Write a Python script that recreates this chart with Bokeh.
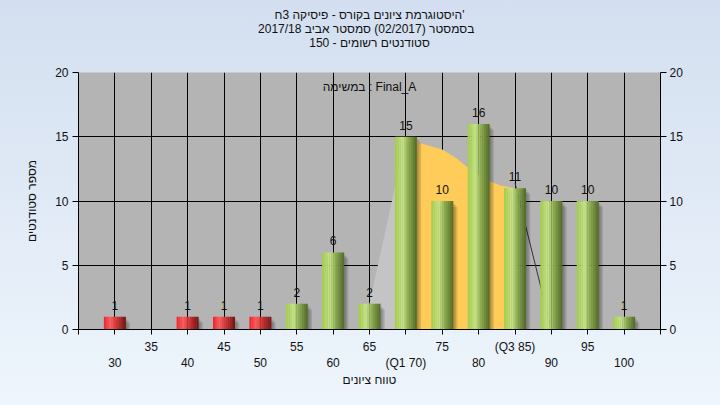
import math
from bokeh.plotting import figure
from bokeh.models import (Range1d, LinearAxis, FixedTicker, Title, Label, GlobalInlineStyleSheet)
from bokeh.core.properties import value
from bokeh.embed import file_html
from bokeh.resources import INLINE

# ---------------- data ----------------
categories = [30, 35, 40, 45, 50, 55, 60, 65, 70, 75, 80, 85, 90, 95, 100]
counts = [1, 0, 1, 1, 1, 2, 6, 2, 15, 10, 16, 11, 10, 10, 1]
pass_mark = 55
tick_labels = {30: "30", 35: "35", 40: "40", 45: "45", 50: "50", 55: "55", 60: "60",
               65: "65", 70: "(Q1 70)", 75: "75", 80: "80", 85: "(Q3 85)", 90: "90",
               95: "95", 100: "100"}
y_ticks = [0, 5, 10, 15, 20]

# curve (below Q1, Q1..Q3, above Q3)
curve_low_x = [65, 70]
curve_low_y = [2, 15]
curve_mid_x = [70, 72, 75, 77, 78.5, 80, 81.7, 83, 85]
curve_mid_y = [15, 14.5, 14.0, 13.3, 12.6, 12.0, 11.5, 11.2, 11.0]
curve_high_x = [85, 90]
curve_high_y = [11.4, 0]

title_lines = ["היסטוגרמת ציונים בקורס - פיסיקה 3ח'",
               "בסמסטר  (02/2017)  סמסטר אביב 2017/18",
               "סטודנטים רשומים - 150"]
subject_label = "במשימה : Final_A"
x_label = "טווח ציונים"
y_label = "מספר סטודנטים"

FONT = "Liberation Sans"
TXT = "#111111"

# ---------------- figure ----------------
p = figure(width=720, height=405, x_range=Range1d(25, 105), y_range=Range1d(0, 20),
           output_backend="svg", toolbar_location=None,
           min_border_left=78, min_border_right=60, min_border_top=72, min_border_bottom=76)
p.border_fill_color = None
p.background_fill_color = "#b4b4b4"
p.outline_line_color = None
p.stylesheets = [GlobalInlineStyleSheet(
    css="html{min-height:100%;background:linear-gradient(180deg,#d3dff0 0%,#eef5fc 100%) fixed;} body{background:transparent;}")]

# titles: a spacer next to the frame, then the three lines (innermost first)
def make_title(txt, so):
    t = Title(text=txt, align="center", text_font_size="12px", text_font_style="normal",
              text_font=FONT, text_color=TXT, standoff=0)
    try:
        t.standoff = so
        return t, True
    except Exception:
        t.standoff = 0
        return t, False

lines_titles = []
neg_ok = True
for line in [title_lines[2], title_lines[1], title_lines[0]]:
    t, ok = make_title(line, -2)
    neg_ok = neg_ok and ok
    lines_titles.append(t)
spacer, _ = make_title(" ", 8 if neg_ok else 6)
p.add_layout(spacer, "above")
for t in lines_titles:
    p.add_layout(t, "above")

# grid
p.xgrid.ticker = FixedTicker(ticks=categories)
p.ygrid.ticker = FixedTicker(ticks=y_ticks)
for g in (p.xgrid[0], p.ygrid[0]):
    g.grid_line_color = "black"
    g.grid_line_width = 1
    g.grid_line_alpha = 1.0

# axes
def style_axis(ax):
    ax.axis_line_color = "black"
    ax.major_tick_line_color = "black"
    ax.minor_tick_line_color = None
    ax.major_tick_in = 0
    ax.major_label_text_font = FONT
    ax.major_label_text_font_size = "12px"
    ax.major_label_text_color = TXT

yl = p.yaxis[0]
yl.ticker = FixedTicker(ticks=y_ticks)
style_axis(yl)
yl.major_tick_out = 6
yl.major_label_standoff = 4
yl.axis_label = y_label
yl.axis_label_text_font = FONT
yl.axis_label_text_font_size = "12px"
yl.axis_label_text_font_style = "normal"
yl.axis_label_text_color = TXT
yl.axis_label_standoff = 13

yr = LinearAxis(ticker=FixedTicker(ticks=y_ticks))
style_axis(yr)
yr.major_tick_out = 6
yr.major_label_standoff = 3
p.add_layout(yr, "right")

xa = p.xaxis[0]
xa.ticker = FixedTicker(ticks=[25] + categories + [105])
style_axis(xa)
xa.major_tick_out = 5
xa.major_label_standoff = 5
overrides = {c: (tick_labels[c] if (c // 5) % 2 == 1 else "") for c in categories}
overrides.update({25: "", 105: ""})
xa.major_label_overrides = overrides

even = [c for c in categories if (c // 5) % 2 == 0]
xb = LinearAxis(ticker=FixedTicker(ticks=even))
style_axis(xb)
xb.axis_line_color = None
xb.major_tick_line_color = None
xb.major_tick_out = 0
try:
    xb.major_label_standoff = -1
except Exception:
    xb.major_label_standoff = 0
xb.major_label_overrides = {c: tick_labels[c] for c in even}
xb.axis_label = x_label
xb.axis_label_text_font = FONT
xb.axis_label_text_font_size = "12px"
xb.axis_label_text_font_style = "normal"
xb.axis_label_text_color = TXT
try:
    xb.axis_label_standoff = 0
except Exception:
    pass
p.add_layout(xb, "below")

# curve areas
p.varea(x=curve_low_x, y1=[0] * len(curve_low_x), y2=curve_low_y, fill_color="#c4c4c4")
p.varea(x=curve_mid_x, y1=[0] * len(curve_mid_x), y2=curve_mid_y, fill_color="#ffcc5a")
p.line(x=curve_high_x, y=curve_high_y, line_color="#333333", line_width=1)

# bars
BAR_W = 3.0
xs = [c for c, v in zip(categories, counts) if v > 0]
vs = [v for v in counts if v > 0]

for dx, dy, a in [(0.2, 0.15, 0.10), (0.4, 0.3, 0.12), (0.6, 0.45, 0.12)]:
    p.vbar(x=[x + dx for x in xs], top=[v - dy for v in vs], bottom=0, width=BAR_W,
           fill_color="black", fill_alpha=a, line_color=None)

def hex2rgb(h):
    h = h.lstrip("#")
    return tuple(int(h[i:i + 2], 16) for i in (0, 2, 4))

def interp(stops, f):
    for (f0, c0), (f1, c1) in zip(stops, stops[1:]):
        if f0 <= f <= f1:
            t = (f - f0) / (f1 - f0)
            a, b = hex2rgb(c0), hex2rgb(c1)
            return "#%02x%02x%02x" % tuple(round(a[k] + (b[k] - a[k]) * t) for k in range(3))
    return stops[-1][1]

green_stops = [(0.0, "#a2cc48"), (0.35, "#c6e48a"), (0.65, "#86a64c"), (1.0, "#516a26")]
red_stops = [(0.0, "#e8222a"), (0.3, "#ff5c5c"), (0.65, "#c42c2c"), (1.0, "#6e1616")]

N = 12
for stops, cond in [(red_stops, lambda c: c < pass_mark), (green_stops, lambda c: c >= pass_mark)]:
    bx = [c for c, v in zip(xs, vs) if cond(c)]
    bv = [v for c, v in zip(xs, vs) if cond(c)]
    for j in range(N):
        f = (j + 0.5) / N
        off = -BAR_W / 2 + f * BAR_W
        p.vbar(x=[c + off for c in bx], top=bv, bottom=0, width=BAR_W / N * 1.1,
               fill_color=interp(stops, f), line_color=None)

# value labels
p.text(x=xs, y=vs, text=[str(v) for v in vs], text_align="center", text_baseline="bottom",
       y_offset=-7, text_font=value(FONT), text_font_size="12px", text_color=TXT)

# inner label
p.add_layout(Label(x=65, y=20, y_offset=-14, text=subject_label, text_align="center",
                   text_baseline="middle", text_font=FONT, text_font_size="12px",
                   text_color=TXT))

open("out.html", "w").write(file_html(p, INLINE))
